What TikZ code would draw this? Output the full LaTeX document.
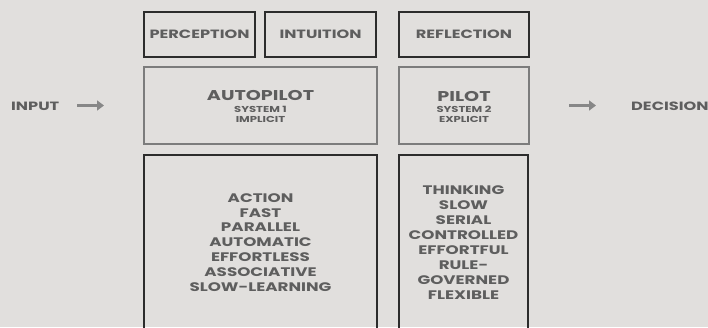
\documentclass[tikz,border=0pt]{standalone}
\usepackage{fontspec}
\setmainfont{Poppins}[FakeStretch=1.35]
\usetikzlibrary{arrows.meta}
\definecolor{bgc}{HTML}{E1DFDD}
\definecolor{txt}{HTML}{5E5E5E}
\definecolor{darkline}{HTML}{2C2C2C}
\definecolor{lightline}{HTML}{7C7C7C}
\definecolor{arrowc}{HTML}{878787}
\tikzset{
  label/.style={text=txt, font=\bfseries\fontsize{12}{13}\selectfont, inner sep=0pt},
  darkbox/.style={draw=darkline, line width=2pt, inner sep=0pt, text=txt, align=center},
  lightbox/.style={draw=lightline, line width=2pt, inner sep=0pt, text=txt, align=center},
  headfont/.style={font=\bfseries\fontsize{12}{13}\selectfont},
  titlefont/.style={font=\bfseries\fontsize{14.2}{14}\selectfont},
  subfont/.style={font=\bfseries\fontsize{8.6}{10}\selectfont},
  listfont/.style={font=\bfseries\fontsize{12.4}{14.9}\selectfont},
  flow/.style={draw=arrowc, line width=2.4pt, -{Triangle[length=7pt,width=10pt]}},
}
\begin{document}
\begin{tikzpicture}[x=1pt, y=-1pt]
  \fill[bgc] (0,0) rectangle (708,327);
  \useasboundingbox (0,0) rectangle (708,327);
  \clip (0,0) rectangle (708,327);

  % top row of faculties
  \node[darkbox, headfont, minimum width=111pt, minimum height=45pt] (perc) at (199.5,34.5) {PERCEPTION};
  \node[darkbox, headfont, minimum width=111pt, minimum height=45pt] (intu) at (320.5,34.5) {INTUITION};
  \node[darkbox, headfont, minimum width=130pt, minimum height=45pt] (refl) at (464,34.5) {REFLECTION};

  % the two systems
  \node[lightbox, minimum width=233pt, minimum height=77pt] (auto) at (260.5,105.5) {};
  \node[lightbox, minimum width=130pt, minimum height=77pt] (pilot) at (464,105.5) {};
  \node[text=txt, align=center, inner sep=0pt, titlefont] (autot) at (260.5,95) {AUTOPILOT};
  \node[text=txt, align=center, inner sep=0pt, subfont] (autos) at (260.5,114) {SYSTEM 1\\IMPLICIT};
  \node[text=txt, align=center, inner sep=0pt, titlefont] (pilott) at (464,96) {PILOT};
  \node[text=txt, align=center, inner sep=0pt, subfont] (pilots) at (464,114) {SYSTEM 2\\EXPLICIT};

  % properties of each system
  \node[darkbox, listfont, minimum width=233pt, minimum height=175pt] (autolist) at (260.5,242.5)
    {ACTION\\FAST\\PARALLEL\\AUTOMATIC\\EFFORTLESS\\ASSOCIATIVE\\SLOW-LEARNING};
  \node[darkbox, listfont, minimum width=129pt, minimum height=175pt] (pilotlist) at (463.5,242.5)
    {THINKING\\SLOW\\SERIAL\\CONTROLLED\\EFFORTFUL\\RULE-\\GOVERNED\\FLEXIBLE};

  % input and output
  \node[label, anchor=west] (input) at (11,106) {INPUT};
  \node[label, anchor=west] (decision) at (631,106) {DECISION};
  \draw[flow] ([xshift=18pt]input.east |- 0,105.5) -- ([xshift=-39pt]auto.west |- 0,105.5);
  \draw[flow] ([xshift=39pt]pilot.east |- 0,105.5) -- ([xshift=-35pt]decision.west |- 0,105.5);
\end{tikzpicture}
\end{document}
